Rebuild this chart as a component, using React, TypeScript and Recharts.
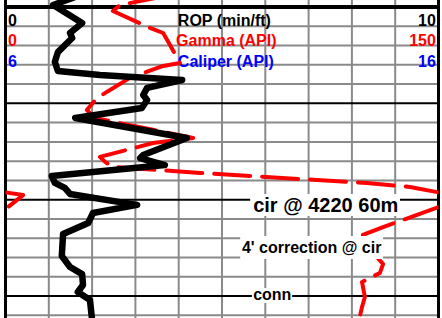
import { ScatterChart, Scatter, XAxis, YAxis, ReferenceLine, ReferenceArea, ReferenceDot } from 'recharts';

// depth in ft, one grid row per foot
const DEPTH_TOP = 4199.637;
const DEPTH_BOTTOM = 4216.139;

const ropDepth = [4199.48, 4199.9, 4200.83, 4201.35, 4201.61, 4202.34, 4202.85, 4203.32, 4203.53, 4203.79, 4204.2, 4204.57, 4204.83, 4205.24, 4205.76, 4206.8, 4207.68, 4207.84, 4208.2, 4208.77, 4209.13, 4209.39, 4209.7, 4210.27, 4210.69, 4211.21, 4211.78, 4212.92, 4213.49, 4213.86, 4214.43, 4214.79, 4215.2, 4216.24];
const ropValues = [1.61, 1.1, 1.77, 1.49, 1.54, 1.21, 1.14, 1.21, 2.18, 4.08, 3.27, 3.18, 3.27, 3.15, 1.61, 4.19, 3.18, 3.11, 3.68, 1.07, 1.14, 1.37, 1.49, 3.04, 2.02, 1.91, 1.33, 1.3, 1.49, 1.77, 1.79, 1.67, 1.95, 2.0];

const gammaUpperDepth = [4199.43, 4199.9, 4200.21, 4201.04, 4201.35, 4201.97, 4202.91, 4203.06, 4203.68, 4204.15, 4204.72, 4205.35, 4205.76, 4206.8, 4207.06, 4207.78, 4208.04, 4208.3, 4208.61, 4208.98, 4209.13, 4209.34, 4209.62];
const gammaUpperValues = [55.3, 39.7, 37.2, 49.4, 54.6, 57.0, 60.4, 54.6, 43.1, 37.9, 31.7, 28.2, 31.0, 65.0, 51.1, 32.7, 34.5, 37.2, 67.4, 107.9, 125.2, 140.1, 150];

// backup wrap: gamma above 150 drawn from the left edge (value - 150)
const gammaWrapDepth = [4209.62, 4209.76, 4210.38];
const gammaWrapValues = [0, 6.1, 0.9];

const gammaLowerDepth = [4210.38, 4211.16, 4211.42, 4211.83, 4212.35, 4213.03, 4213.34, 4213.8, 4214.27, 4215.05, 4215.57, 4216.24];
const gammaLowerValues = [150, 135.6, 130.8, 123.8, 124.5, 129.0, 130.8, 129.7, 123.5, 124.5, 123.5, 122.5];

const ropTicks = [1, 2, 3, 4, 5, 6, 7, 8, 9];
const depthTicks = [4201, 4202, 4203, 4204, 4205, 4206, 4207, 4208, 4209, 4210, 4211, 4212, 4213, 4214, 4215, 4216];

const headerRows = [
  { depth: 4201.01, left: '0', name: 'ROP (min/ft)', right: '10', color: '#000000', nameAt: 3.98 },
  { depth: 4202.05, left: '0', name: 'Gamma (API)', right: '150', color: '#ff0000', nameAt: 3.94 },
  { depth: 4203.11, left: '6', name: 'Caliper (API)', right: '16', color: '#0000ff', nameAt: 3.98 },
];

const notes = [
  { text: 'cir @ 4220 60m', rop: 5.72, depth: 4210.64, size: 20, box: [5.65, 9.11, 4209.7, 4210.85] },
  { text: "4' correction @ cir", rop: 5.46, depth: 4212.77, size: 16, box: [5.42, 8.72, 4211.88, 4213.08] },
  { text: 'conn', rop: 5.72, depth: 4215.21, size: 16, box: [5.69, 6.62, 4214.58, 4215.36] },
];

const toRows = (depths: number[], values: number[], key: string) =>
  depths.map((depth, i) => ({ depth, [key]: values[i] }));

const ropData = toRows(ropDepth, ropValues, 'rop');
const gammaUpper = toRows(gammaUpperDepth, gammaUpperValues, 'gamma');
const gammaWrap = toRows(gammaWrapDepth, gammaWrapValues, 'gamma');
const gammaLower = toRows(gammaLowerDepth, gammaLowerValues, 'gamma');

const FONT = '"Liberation Sans", Arial, sans-serif';
const NoPoint = () => <g />;

const gammaLine = { stroke: '#ff0000', strokeWidth: 4, strokeDasharray: '36 12', strokeLinejoin: 'round', strokeLinecap: 'round' };

const textShape = (text: string, color: string, size: number, anchor: string) => (p: any) => (
  <text x={p.cx} y={p.cy} fill={color} fontSize={size} fontWeight="bold" fontFamily={FONT} textAnchor={anchor}>
    {text}
  </text>
);

export default function App() {
  return (
    <div style={{ position: 'absolute', left: 0, top: 0, width: 442, height: 318, background: '#fff' }}>
      <ScatterChart width={442} height={318} margin={{ top: 0, right: 3.5, bottom: 0, left: 5.5 }}>
        <XAxis xAxisId="rop" type="number" dataKey="rop" domain={[0, 10]} allowDataOverflow hide />
        <XAxis xAxisId="gr" type="number" dataKey="gamma" domain={[0, 150]} allowDataOverflow hide />
        <YAxis yAxisId="d" type="number" dataKey="depth" domain={[DEPTH_TOP, DEPTH_BOTTOM]} reversed allowDataOverflow hide />

        {ropTicks.map((t) => (
          <ReferenceLine key={'v' + t} xAxisId="rop" yAxisId="d" x={t} stroke="#8a8a8a" strokeWidth={2} zIndex={-10} />
        ))}
        {depthTicks.map((t) => (
          <ReferenceLine
            key={'h' + t}
            xAxisId="rop"
            yAxisId="d"
            y={t}
            stroke={t % 5 === 0 ? '#000000' : '#8a8a8a'}
            strokeWidth={2}
            zIndex={t % 5 === 0 ? -5 : -10}
          />
        ))}
        <ReferenceLine xAxisId="rop" yAxisId="d" y={4200} stroke="#000" strokeWidth={4} zIndex={-5} />
        <ReferenceLine xAxisId="rop" yAxisId="d" x={0} stroke="#000" strokeWidth={3} zIndex={-5} />
        <ReferenceLine xAxisId="rop" yAxisId="d" x={10} stroke="#000" strokeWidth={3} zIndex={-5} />

        {headerRows.map((r) => [
          <ReferenceDot key={r.name + 'l'} xAxisId="rop" yAxisId="d" x={0.06} y={r.depth} r={0} shape={textShape(r.left, r.color, 16, 'start')} />,
          <ReferenceDot key={r.name} xAxisId="rop" yAxisId="d" x={r.nameAt} y={r.depth} r={0} shape={textShape(r.name, r.color, 16, 'start')} />,
          <ReferenceDot key={r.name + 'r'} xAxisId="rop" yAxisId="d" x={9.94} y={r.depth} r={0} shape={textShape(r.right, r.color, 16, 'end')} />,
        ])}

        <Scatter
          data={gammaUpper}
          xAxisId="gr"
          yAxisId="d"
          line={gammaLine}
          shape={NoPoint}
          isAnimationActive={false}
        />
        <Scatter data={gammaWrap} xAxisId="gr" yAxisId="d" line={gammaLine} shape={NoPoint} isAnimationActive={false} />
        <Scatter data={gammaLower} xAxisId="gr" yAxisId="d" line={gammaLine} shape={NoPoint} isAnimationActive={false} />
        <Scatter
          data={ropData}
          xAxisId="rop"
          yAxisId="d"
          line={{ stroke: '#000000', strokeWidth: 6.5, strokeLinejoin: 'round', strokeLinecap: 'round' }}
          shape={NoPoint}
          isAnimationActive={false}
        />

        {notes.map((n) => (
          <ReferenceArea
            key={n.text + 'box'}
            xAxisId="rop"
            yAxisId="d"
            x1={n.box[0]}
            x2={n.box[1]}
            y1={n.box[2]}
            y2={n.box[3]}
            fill="#ffffff"
            fillOpacity={1}
            stroke="none"
            zIndex={1500}
          />
        ))}
        {notes.map((n) => (
          <ReferenceDot
            key={n.text}
            xAxisId="rop"
            yAxisId="d"
            x={n.rop}
            y={n.depth}
            r={0}
            zIndex={1600}
            shape={textShape(n.text, '#000000', n.size, 'start')}
          />
        ))}
      </ScatterChart>
    </div>
  );
}
